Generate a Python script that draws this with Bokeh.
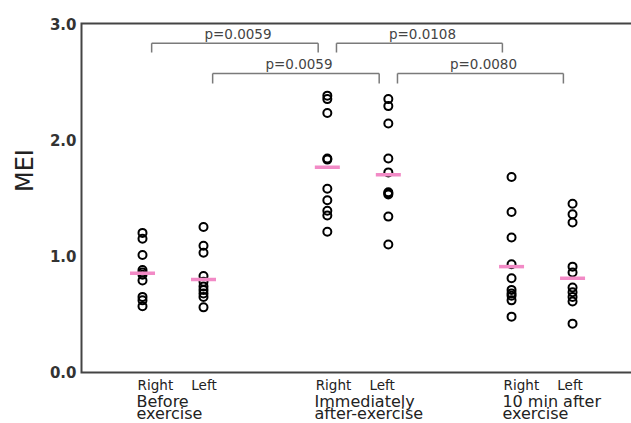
import math
from bokeh.plotting import figure
from bokeh.models import FixedTicker, Range1d, ColumnDataSource
from bokeh.core.properties import value
from bokeh.embed import file_html
from bokeh.resources import INLINE

# ---- data ----
groups = [("Before", "exercise"), ("Immediately", "after-exercise"), ("10 min after", "exercise")]
sides = ["Right", "Left"]
col_x = [1.0, 2.0, 4.03, 5.03, 7.05, 8.05]
group_label_x = [0.90, 3.82, 6.90]

before_right = [1.20, 1.15, 1.01, 0.88, 0.86, 0.84, 0.79, 0.65, 0.62, 0.57]
before_left = [1.25, 1.09, 1.03, 0.83, 0.78, 0.74, 0.71, 0.68, 0.65, 0.56]
imm_right = [2.38, 2.35, 2.23, 1.84, 1.83, 1.58, 1.48, 1.39, 1.35, 1.21]
imm_left = [2.35, 2.29, 2.14, 1.84, 1.72, 1.55, 1.54, 1.53, 1.34, 1.10]
ten_right = [1.68, 1.38, 1.16, 0.93, 0.81, 0.71, 0.68, 0.66, 0.62, 0.48]
ten_left = [1.45, 1.36, 1.29, 0.91, 0.86, 0.73, 0.69, 0.65, 0.61, 0.42]
series = [before_right, before_left, imm_right, imm_left, ten_right, ten_left]

center_values = [0.854, 0.80, 1.765, 1.70, 0.91, 0.81]

# comparisons: (column a, column b, bracket level y, tick end y, label)
comparisons = [
    (0, 2, 2.83, 2.75, "p=0.0059"),
    (2, 4, 2.83, 2.75, "p=0.0108"),
    (1, 3, 2.57, 2.485, "p=0.0059"),
    (3, 5, 2.57, 2.485, "p=0.0080"),
]
y_min, y_max = 0.0, 3.0
y_ticks = [0, 1, 2, 3]
y_tick_labels = ["0.0", "1.0", "2.0", "3.0"]
y_title = "MEI"
y_title_pos = 1.736

FONT = "DejaVu Sans"
AXIS_COLOR = "#444444"
TEXT_COLOR = "#222222"

PX_X = 61.0    # pixels per x unit
PX_Y = 116.3   # pixels per y unit
DY = 5 / PX_Y  # baseline correction for text glyphs
x_lo, x_hi = -81 / PX_X, 550 / PX_X
y_lo, y_hi = -51 / PX_Y, y_max + 23 / PX_Y

p = figure(width=631, height=423, x_range=Range1d(x_lo, x_hi), y_range=Range1d(y_lo, y_hi),
           output_backend="svg", toolbar_location=None,
           min_border_left=0, min_border_right=0, min_border_top=0, min_border_bottom=0)
p.xgrid.visible = False
p.ygrid.visible = False
p.outline_line_color = None
p.background_fill_color = "white"
p.border_fill_color = "white"
p.xaxis.visible = False

# left axis placed at x = 0 inside the frame
ya = p.yaxis[0]
ya.fixed_location = 0
ya.bounds = (y_min, y_max)
ya.ticker = FixedTicker(ticks=y_ticks)
ya.major_label_overrides = {t: l for t, l in zip(y_ticks, y_tick_labels)}
ya.axis_line_color = None
ya.major_tick_line_color = None
ya.minor_tick_line_color = None
ya.major_tick_in = 0
ya.major_tick_out = 0
ya.major_label_standoff = 5
ya.major_label_text_font = FONT
ya.major_label_text_font_style = "bold"
ya.major_label_text_font_size = "15px"
ya.major_label_text_color = "#333333"

# frame lines: top, left, bottom
p.line(x=[x_hi, 0, 0, x_hi], y=[y_max, y_max, y_min, y_min],
       line_color=AXIS_COLOR, line_width=2, line_join="miter")

# y title
p.text(x=[-56.5 / PX_X], y=[y_title_pos], text=[y_title], angle=math.pi / 2,
       text_font=value(FONT), text_font_size="24px", text_color=TEXT_COLOR,
       text_align="center", text_baseline="middle")

# points
xs, ys = [], []
for x, vals in zip(col_x, series):
    xs += [x] * len(vals)
    ys += vals
src = ColumnDataSource(dict(x=xs, y=ys))
p.scatter("x", "y", source=src, size=8, marker="circle", fill_color=None,
          line_color="black", line_width=2)

# center (pink) lines
hw = 0.205
p.segment(x0=[x - hw for x in col_x], y0=center_values, x1=[x + hw for x in col_x],
          y1=center_values, line_color="#F28AC6", line_width=3.5)

# brackets
bx0, by0, bx1, by1 = [], [], [], []
tx, ty, tt = [], [], []
for a, b, lvl, end, lab in comparisons:
    s = col_x[a] + 0.15
    e = col_x[b] - 0.15
    bx0 += [s, s, e]
    bx1 += [e, s, e]
    by0 += [lvl, lvl, lvl]
    by1 += [lvl, end, end]
    tx.append((s + e) / 2 + 0.05)
    ty.append(lvl + 0.035 + DY)
    tt.append(lab)
p.segment(x0=bx0, y0=by0, x1=bx1, y1=by1, line_color="#7a7a7a", line_width=1.5)
p.text(x=tx, y=ty, text=tt, text_font=value(FONT), text_font_size="13.5px",
       text_color="#444444", text_align="center", text_baseline="alphabetic")

# category labels below the axis
side_x, side_t = [], []
for gx in group_label_x:
    side_x += [gx + 0.02, gx + 0.90]
    side_t += sides
p.text(x=side_x, y=[y_min - 18 / PX_Y + DY] * len(side_x), text=side_t, text_font=value(FONT),
       text_font_size="13.5px", text_color=TEXT_COLOR, text_align="left",
       text_baseline="alphabetic")
p.text(x=group_label_x, y=[y_min - 33.7 / PX_Y + DY] * len(groups), text=[g[0] for g in groups],
       text_font=value(FONT), text_font_size="16px", text_color=TEXT_COLOR,
       text_align="left", text_baseline="alphabetic")
p.text(x=group_label_x, y=[y_min - 46.5 / PX_Y + DY] * len(groups), text=[g[1] for g in groups],
       text_font=value(FONT), text_font_size="16px", text_color=TEXT_COLOR,
       text_align="left", text_baseline="alphabetic")

open("out.html", "w").write(file_html(p, INLINE))
